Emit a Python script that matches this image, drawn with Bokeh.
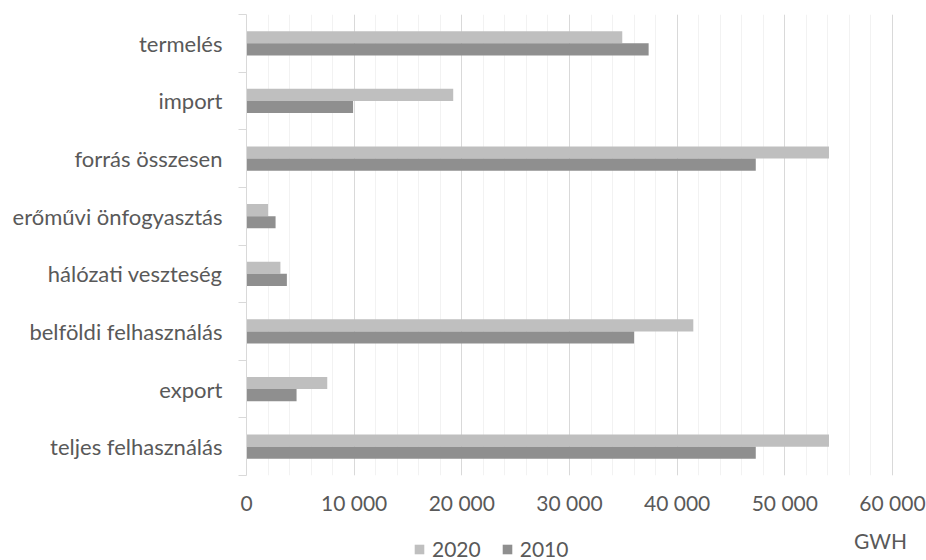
from bokeh.plotting import figure
from bokeh.layouts import column
from bokeh.models import (Range1d, FixedTicker, Legend, LegendItem, Label,
                          ColumnDataSource)
from bokeh.embed import file_html
from bokeh.resources import INLINE

categories = ["termelés", "import", "forrás összesen", "erőművi önfogyasztás",
              "hálózati veszteség", "belföldi felhasználás", "export",
              "teljes felhasználás"]
v2020 = [34900, 19200, 54100, 2000, 3150, 41500, 7500, 54100]
v2010 = [37350, 9900, 47300, 2700, 3750, 36000, 4650, 47300]
series_names = ["2020", "2010"]
x_ticks = [0, 10000, 20000, 30000, 40000, 50000, 60000]
x_tick_labels = ["0", "10 000", "20 000", "30 000", "40 000", "50 000", "60 000"]
unit_label = "GWH"

FONT = "Lato"
TXT = "#595959"
C2020 = "#BFBFBF"
C2010 = "#8F8F8F"

n = len(categories)
centers = [i + 0.5 for i in range(n)]
bar_h = 0.21

src = ColumnDataSource(dict(
    y20=[c - bar_h / 2 for c in centers],
    y10=[c + bar_h / 2 for c in centers],
    v20=v2020, v10=v2010, cat=categories))

TOP_H = 522
BOT_H = 560 - TOP_H

# frame 246..906 px; 60 000 falls at 892 px
p = figure(width=926, height=TOP_H, output_backend="svg", toolbar_location=None,
           x_range=Range1d(0, 61300), y_range=Range1d(n, 0),
           min_border_left=246, min_border_right=20, min_border_top=14,
           min_border_bottom=TOP_H - 475)
p.outline_line_color = None
p.background_fill_color = "white"
p.border_fill_color = "white"

r20 = p.hbar(y="y20", right="v20", left=0, height=bar_h, source=src,
             fill_color=C2020, line_color=None)
r10 = p.hbar(y="y10", right="v10", left=0, height=bar_h, source=src,
             fill_color=C2010, line_color=None)

# x axis
xa = p.xaxis[0]
xa.ticker = FixedTicker(ticks=x_ticks, minor_ticks=list(range(0, 60001, 2000)))
xa.major_label_overrides = {t: l for t, l in zip(x_ticks, x_tick_labels)}
xa.axis_line_color = None
xa.major_tick_line_color = None
xa.minor_tick_line_color = None
xa.major_tick_out = 0
xa.minor_tick_out = 0
xa.major_label_text_font = FONT
xa.major_label_text_font_size = "21px"
xa.major_label_text_color = TXT
xa.major_label_standoff = 14

p.xgrid.grid_line_color = "#D9D9D9"
p.xgrid.grid_line_width = 1
p.xgrid.minor_grid_line_color = "#F2F2F2"
p.ygrid.visible = False

# y axis
ya = p.yaxis[0]
ya.ticker = FixedTicker(ticks=centers, minor_ticks=[float(i) for i in range(n + 1)])
ya.major_label_overrides = {c: name for c, name in zip(centers, categories)}
ya.axis_line_color = "#D9D9D9"
ya.major_tick_line_color = None
ya.major_tick_out = 0
ya.major_tick_in = 0
ya.minor_tick_line_color = "#D9D9D9"
ya.minor_tick_out = 8
ya.minor_tick_in = 0
ya.major_label_text_font = FONT
ya.major_label_text_font_size = "22px"
ya.major_label_text_color = TXT
ya.major_label_standoff = 16

# bottom strip holding the legend and the unit label (shares the x scale)
q = figure(width=926, height=BOT_H, output_backend="svg", toolbar_location=None,
           x_range=p.x_range, y_range=Range1d(BOT_H, 0),
           x_axis_location=None, y_axis_location=None,
           min_border=0, min_border_left=246, min_border_right=20)
q.outline_line_color = None
q.grid.visible = False
q.border_fill_color = "white"
q.background_fill_color = "white"

# legend proxies: same data, hidden in this strip
k20 = q.hbar(y="y20", right="v20", left=0, height=bar_h, source=src,
             fill_color=C2020, line_color=None, visible=False)
k10 = q.hbar(y="y10", right="v10", left=0, height=bar_h, source=src,
             fill_color=C2010, line_color=None, visible=False)

legend = Legend(items=[LegendItem(label=series_names[0], renderers=[k20]),
                       LegendItem(label=series_names[1], renderers=[k10])],
                orientation="horizontal", location=(167, -1),
                border_line_color=None, background_fill_alpha=0,
                label_text_font=FONT, label_text_font_size="21px",
                label_text_color=TXT, glyph_width=12, glyph_height=12,
                label_standoff=7, spacing=20, padding=0, margin=0,
                label_height=20, click_policy="none")
q.add_layout(legend, "center")

q.add_layout(Label(x=58885, y=540 - TOP_H, text=unit_label, text_align="center",
                   text_baseline="middle", text_font=FONT,
                   text_font_size="21px", text_color=TXT))

open("out.html", "w").write(file_html(column(p, q, spacing=0), INLINE))
